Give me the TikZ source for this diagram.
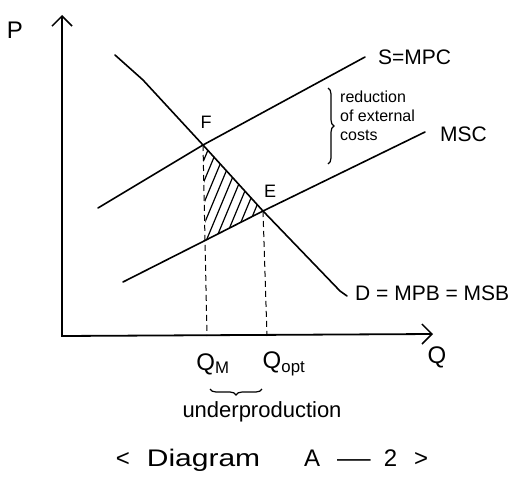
\documentclass[tikz,border=0pt]{standalone}
\usepackage{fontspec}
\setmainfont{Liberation Sans}
\usetikzlibrary{arrows.meta,decorations.pathreplacing}
\begin{document}
\begin{tikzpicture}[x=1pt,y=-1pt,
  curve/.style={line width=1.6pt, line join=round, line cap=round},
  axis/.style={line width=1.8pt, {Straight Barb[length=10pt,width=20pt,line width=1.5pt]}-{Straight Barb[length=10pt,width=20pt,line width=1.5pt]}},
  guide/.style={line width=1pt, dash pattern=on 6pt off 4pt},
  hatch/.style={line width=1.2pt},
  bracestyle/.style={line width=1.2pt, decorate, decoration={brace, amplitude=6pt}},
  lbl/.style={inner sep=0pt, font=\fontsize{21}{23}\selectfont},
  big/.style={inner sep=0pt, font=\fontsize{24}{26}\selectfont},
  pt/.style={inner sep=0pt, font=\fontsize{18}{20}\selectfont},
  small/.style={inner sep=0pt, align=left, font=\fontsize{16}{19}\selectfont}
]
\useasboundingbox (0,0) rectangle (516,487);

% axes
\coordinate (O) at (62,336);
\coordinate (Ytip) at (62,15);
\coordinate (Xtip) at (433,334);
\draw[axis] (Ytip) -- (O) -- (Xtip);

% key points
\coordinate (F) at (203,145);
\coordinate (E) at (263,211);
\coordinate (B) at (206,240);

% supply S=MPC
\coordinate (S1) at (98,208);
\coordinate (S2) at (365,57);
\draw[curve] (S1) -- (F) -- (S2);

% MSC
\coordinate (M1) at (123,282);
\coordinate (M2) at (425,132);
\draw[curve] (M1) -- (B) -- (E) -- (M2);

% demand
\coordinate (D1) at (115,55);
\coordinate (D2) at (143,80);
\coordinate (D3) at (340,291);
\coordinate (D4) at (347,296);
\draw[curve] (D1) -- (D2) -- (F) -- (E) -- (D3) -- (D4);

% hatched triangle
\begin{scope}
  \clip (F) -- (E) -- (B) -- cycle;
  \foreach \x in {140,149,...,300} \draw[hatch] (\x,270) -- ++(50,-120);
\end{scope}

% dashed guides
\coordinate (QMb) at (207,336);
\coordinate (QOb) at (267,336);
\draw[guide] (F) -- (QMb);
\draw[guide] (E) -- (QOb);

% labels
\node[big] (Plbl) at (15,30) {P};
\node[pt] (Flbl) at (206,122) {F};
\node[pt] (Elbl) at (270,191) {E};
\node[lbl, anchor=west] (Slbl) at (378,57) {S=MPC};
\node[lbl, anchor=west] (MSClbl) at (440,134) {MSC};
\node[lbl, anchor=west] (Dlbl) at (355,293) {D = MPB = MSB};
\node[big] (QMlbl) at (213,364) {Q\textsubscript{M}};
\node[big] (QOlbl) at (284,364) {Q\textsubscript{opt}};
\node[big] (Qlbl) at (437,357) {Q};

% brace: reduction of external costs
\coordinate (Rb1) at (328,88);
\coordinate (Rb2) at (328,164);
\draw[bracestyle] (Rb1) -- (Rb2);
\node[small, anchor=west] (Rlbl) at (340,116) {reduction\\of external\\ costs};

% underbrace: underproduction
\coordinate (Ub1) at (262,389);
\coordinate (Ub2) at (210,389);
\draw[bracestyle] (Ub1) -- (Ub2);
\node[inner sep=0pt, font=\fontsize{22}{24}\selectfont] (Ulbl) at (262,412) {underproduction};

% caption
\node[big] (Cap) at (272,460) {<\hspace{17pt}\scalebox{1.25}[1]{Diagram}\hspace{44pt}A\hspace{17pt}\scalebox{1.4}[1]{—}\hspace{13pt}2\hspace{17pt}>};
\end{tikzpicture}
\end{document}
